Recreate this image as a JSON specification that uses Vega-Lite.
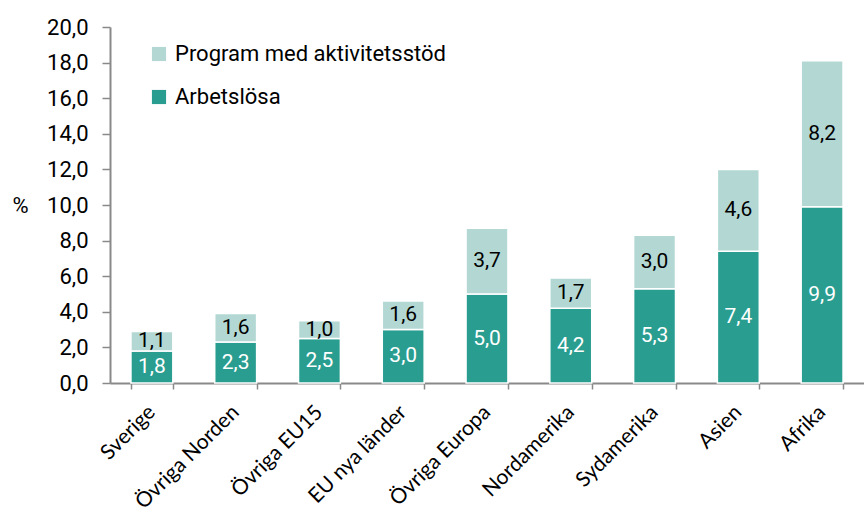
{
  "$schema": "https://vega.github.io/schema/vega-lite/v6.json",
  "autosize": {"type": "none"},
  "width": 754,
  "height": 356,
  "padding": {"left": 110, "top": 27, "right": 0, "bottom": 133},
  "background": "white",
  "config": {
    "view": {"stroke": null},
    "locale": {"number": {"decimal": ",", "thousands": " ", "grouping": [3], "currency": ["", " kr"]}}
  },
  "data": {
    "values": [
      {"land": "Sverige", "serie": "Arbetslösa", "varde": 1.8, "ord": 1},
      {"land": "Sverige", "serie": "Program med aktivitetsstöd", "varde": 1.1, "ord": 2},
      {"land": "Övriga Norden", "serie": "Arbetslösa", "varde": 2.3, "ord": 1},
      {"land": "Övriga Norden", "serie": "Program med aktivitetsstöd", "varde": 1.6, "ord": 2},
      {"land": "Övriga EU15", "serie": "Arbetslösa", "varde": 2.5, "ord": 1},
      {"land": "Övriga EU15", "serie": "Program med aktivitetsstöd", "varde": 1.0, "ord": 2},
      {"land": "EU nya länder", "serie": "Arbetslösa", "varde": 3.0, "ord": 1},
      {"land": "EU nya länder", "serie": "Program med aktivitetsstöd", "varde": 1.6, "ord": 2},
      {"land": "Övriga Europa", "serie": "Arbetslösa", "varde": 5.0, "ord": 1},
      {"land": "Övriga Europa", "serie": "Program med aktivitetsstöd", "varde": 3.7, "ord": 2},
      {"land": "Nordamerika", "serie": "Arbetslösa", "varde": 4.2, "ord": 1},
      {"land": "Nordamerika", "serie": "Program med aktivitetsstöd", "varde": 1.7, "ord": 2},
      {"land": "Sydamerika", "serie": "Arbetslösa", "varde": 5.3, "ord": 1},
      {"land": "Sydamerika", "serie": "Program med aktivitetsstöd", "varde": 3.0, "ord": 2},
      {"land": "Asien", "serie": "Arbetslösa", "varde": 7.4, "ord": 1},
      {"land": "Asien", "serie": "Program med aktivitetsstöd", "varde": 4.6, "ord": 2},
      {"land": "Afrika", "serie": "Arbetslösa", "varde": 9.9, "ord": 1},
      {"land": "Afrika", "serie": "Program med aktivitetsstöd", "varde": 8.2, "ord": 2}
    ]
  },
  "transform": [
    {"stack": "varde", "groupby": ["land"], "sort": [{"field": "ord", "order": "ascending"}], "as": ["y0", "y1"]},
    {"calculate": "(datum.y0 + datum.y1) / 2", "as": "ymid"}
  ],
  "encoding": {
    "x": {
      "field": "land", "type": "nominal", "sort": null,
      "scale": {"paddingInner": 0.5, "paddingOuter": 0.25},
      "axis": {
        "title": null, "labelAngle": -45, "labelAlign": "right", "labelBaseline": "top",
        "labelFont": "Lato", "labelFontSize": 21, "labelColor": "#000000", "labelPadding": 12,
        "domainColor": "#898989", "domainWidth": 2, "tickColor": "#898989", "tickWidth": 1.5, "tickSize": 6,
        "tickBand": "extent", "labelOffset": -8, "labelLimit": 0
      }
    }
  },
  "layer": [
    {
      "mark": {"type": "bar", "stroke": "#ffffff", "strokeWidth": 1.5},
      "encoding": {
        "y": {
          "field": "y0", "type": "quantitative",
          "scale": {"domain": [0, 20], "nice": false},
          "axis": {
            "title": "%", "titleAngle": 0, "titleFont": "Roboto", "titleFontSize": 22,
            "titleFontWeight": "normal", "titleColor": "#000000", "titleX": -90, "titleY": 190,
            "values": [0, 2, 4, 6, 8, 10, 12, 14, 16, 18, 20], "format": ".1f", "labelOverlap": false,
            "labelFont": "Roboto", "labelFontSize": 22, "labelColor": "#000000", "labelPadding": 14,
            "grid": false, "domainColor": "#898989", "domainWidth": 2, "tickColor": "#898989", "tickWidth": 1.5, "tickSize": 8
          }
        },
        "y2": {"field": "y1"},
        "color": {
          "field": "serie", "type": "nominal",
          "scale": {"domain": ["Program med aktivitetsstöd", "Arbetslösa"], "range": ["#b3d8d4", "#299d8f"]},
          "legend": {
            "title": null, "orient": "none", "legendX": 38, "legendY": 16,
            "symbolType": "square", "symbolSize": 200, "symbolStrokeWidth": 0,
            "labelFont": "Roboto", "labelFontSize": 22, "labelColor": "#000000", "labelLimit": 0,
            "rowPadding": 21, "labelOffset": 5
          }
        }
      }
    },
    {
      "mark": {"type": "text", "font": "Roboto", "fontSize": 21},
      "encoding": {
        "y": {
          "field": "ymid", "type": "quantitative",
          "axis": {
            "title": "%", "titleAngle": 0, "titleFont": "Roboto", "titleFontSize": 22,
            "titleFontWeight": "normal", "titleColor": "#000000", "titleX": -90, "titleY": 190,
            "values": [0, 2, 4, 6, 8, 10, 12, 14, 16, 18, 20], "format": ".1f", "labelOverlap": false,
            "labelFont": "Roboto", "labelFontSize": 22, "labelColor": "#000000", "labelPadding": 14,
            "grid": false, "domainColor": "#898989", "domainWidth": 2, "tickColor": "#898989", "tickWidth": 1.5, "tickSize": 8
          }
        },
        "text": {"field": "varde", "type": "quantitative", "format": ".1f"},
        "color": {
          "condition": {"test": "datum.serie === 'Arbetslösa'", "value": "#ffffff"},
          "value": "#000000"
        }
      }
    }
  ]
}
